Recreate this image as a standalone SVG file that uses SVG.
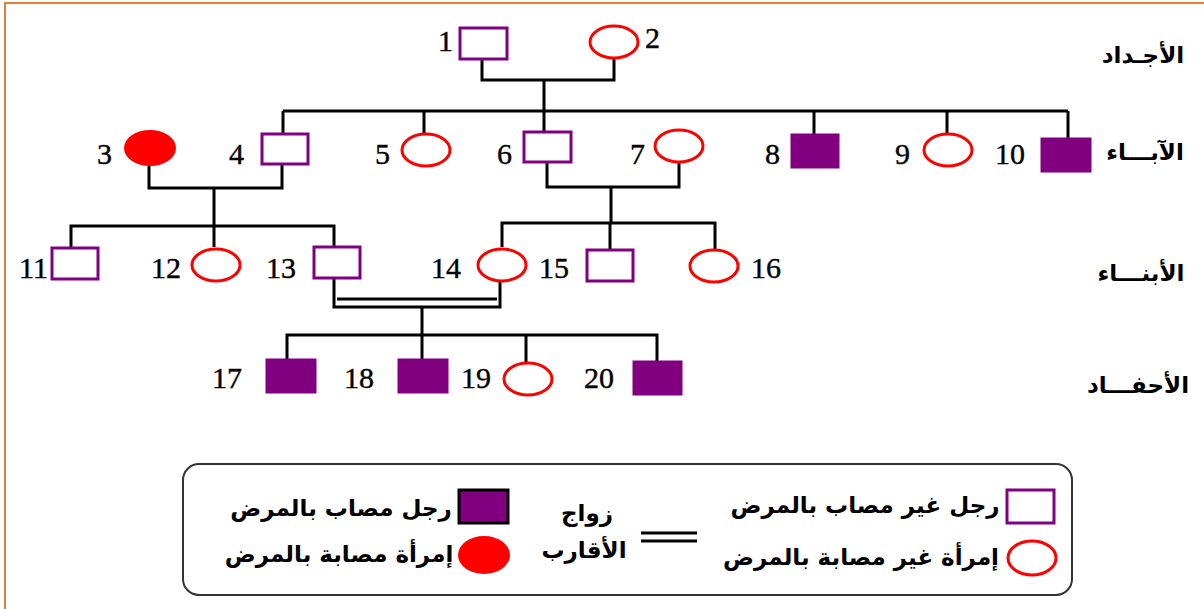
<svg xmlns="http://www.w3.org/2000/svg" width="1204" height="609" viewBox="0 0 1204 609">
<style>
.m{fill:#fff;stroke:#800080;stroke-width:3}
.ma{fill:#800080;stroke:#800080;stroke-width:1}
.f{fill:#fff;stroke:#ff0000;stroke-width:3}
.fa{fill:#ff0000;stroke:none}
.ln{fill:none;stroke:#000;stroke-width:3}
.n{font-family:"Liberation Serif",serif;font-size:30px;fill:#000;stroke:#000;stroke-width:0.4}
.ar{font-family:"DejaVu Sans",sans-serif;font-weight:bold;font-size:23px;fill:#000;text-anchor:middle}
.lg{font-family:"DejaVu Sans",sans-serif;font-weight:bold;font-size:23px;fill:#000;text-anchor:middle}
</style>
<rect x="0" y="0" width="1204" height="609" fill="#fff"/>
<rect x="5" y="3" width="1220" height="640" fill="none" stroke="#ED7D31" stroke-width="2"/>
<g id="connectors" class="ln">
<path d="M482,59 V80 H614 V59"/>
<path d="M544,80 V111"/>
<path d="M283,111 H1068"/>
<path d="M283,111 V133"/>
<path d="M424,111 V133"/>
<path d="M544,111 V131"/>
<path d="M814,111 V134"/>
<path d="M947,111 V133"/>
<path d="M1068,111 V138"/>
<path d="M149,166 V188 H282 V165"/>
<path d="M214,188 V226"/>
<path d="M71,247 V226 H334 V246"/>
<path d="M214,226 V247"/>
<path d="M547,163 V187 H679 V163"/>
<path d="M611,187 V223"/>
<path d="M502,247 V223 H715 V249"/>
<path d="M610,223 V249"/>
<path d="M334,278 V307 H500 V282"/>
<path d="M337,299 H497"/>
<path d="M422,307 V335"/>
<path d="M287,359 V335 H657 V361"/>
<path d="M422,335 V359"/>
<path d="M526,335 V362"/>
</g>
<g id="n1"><rect class="m" x="460" y="28" width="47" height="31"/><text class="n" x="438" y="51">1</text></g>
<g id="n2"><ellipse class="f" cx="614" cy="42" rx="24" ry="16"/><text class="n" x="645" y="48">2</text></g>
<g id="n3"><ellipse class="fa" cx="150" cy="148" rx="26" ry="18"/><text class="n" x="97" y="164">3</text></g>
<g id="n4"><rect class="m" x="262" y="134" width="46" height="30"/><text class="n" x="229" y="164">4</text></g>
<g id="n5"><ellipse class="f" cx="426" cy="150" rx="24" ry="16"/><text class="n" x="375" y="164">5</text></g>
<g id="n6"><rect class="m" x="524" y="132" width="47" height="30"/><text class="n" x="497" y="164">6</text></g>
<g id="n7"><ellipse class="f" cx="679" cy="146" rx="24" ry="16"/><text class="n" x="630" y="164">7</text></g>
<g id="n8"><rect class="ma" x="791" y="134" width="48" height="34"/><text class="n" x="765" y="164">8</text></g>
<g id="n9"><ellipse class="f" cx="948" cy="150" rx="24" ry="16"/><text class="n" x="895" y="164">9</text></g>
<g id="n10"><rect class="ma" x="1041" y="138" width="50" height="34"/><text class="n" x="995" y="164">10</text></g>
<g id="n11"><rect class="m" x="52" y="248" width="46" height="31"/><text class="n" x="19" y="278">11</text></g>
<g id="n12"><ellipse class="f" cx="216" cy="265" rx="24" ry="16"/><text class="n" x="151" y="278">12</text></g>
<g id="n13"><rect class="m" x="314" y="247" width="46" height="31"/><text class="n" x="266" y="278">13</text></g>
<g id="n14"><ellipse class="f" cx="502" cy="265" rx="24" ry="16"/><text class="n" x="431" y="278">14</text></g>
<g id="n15"><rect class="m" x="587" y="250" width="46" height="31"/><text class="n" x="539" y="278">15</text></g>
<g id="n16"><ellipse class="f" cx="714" cy="266" rx="24" ry="16"/><text class="n" x="751" y="278">16</text></g>
<g id="n17"><rect class="ma" x="266" y="359" width="50" height="34"/><text class="n" x="212" y="388">17</text></g>
<g id="n18"><rect class="ma" x="398" y="359" width="50" height="34"/><text class="n" x="344" y="388">18</text></g>
<g id="n19"><ellipse class="f" cx="528" cy="379" rx="24" ry="16"/><text class="n" x="461" y="388">19</text></g>
<g id="n20"><rect class="ma" x="633" y="361" width="49" height="34"/><text class="n" x="584" y="388">20</text></g>
<g id="generations">
<text class="ar" x="1143" y="63">الأجـداد</text>
<text class="ar" x="1145" y="160">الآبـــاء</text>
<text class="ar" x="1141" y="281">الأبنـــاء</text>
<text class="ar" x="1138" y="393">الأحفـــاد</text>
</g>
<g id="legend">
<rect x="183" y="464" width="889" height="131" rx="16" ry="16" fill="#fff" stroke="#333" stroke-width="2"/>
<rect x="459" y="490" width="49" height="33" fill="#800080" stroke="#000" stroke-width="3"/>
<text class="lg" x="341" y="516">رجل مصاب بالمرض</text>
<ellipse cx="484" cy="555" rx="26" ry="19" fill="#ff0000"/>
<text class="lg" x="339" y="562">إمرأة مصابة بالمرض</text>
<text class="lg" x="587" y="521">زواج</text>
<text class="lg" x="584" y="558">الأقارب</text>
<path d="M641,533 H697 M641,541 H697" stroke="#000" stroke-width="3" fill="none"/>
<rect x="1007" y="490" width="47" height="33" fill="#fff" stroke="#800080" stroke-width="3"/>
<text class="lg" x="865" y="513">رجل غير مصاب  بالمرض</text>
<ellipse cx="1032" cy="558" rx="24" ry="17" fill="#fff" stroke="#ff0000" stroke-width="3"/>
<text class="lg" x="861" y="565">إمرأة غير مصابة بالمرض</text>
</g>
</svg>
